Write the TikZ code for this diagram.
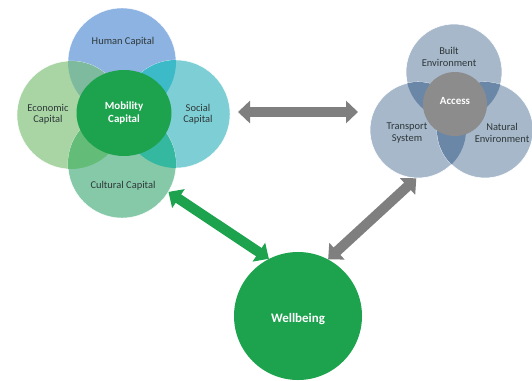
\documentclass[tikz,border=0pt]{standalone}
\usepackage{fontspec}
\setmainfont{Carlito}
\usetikzlibrary{arrows.meta,shapes.geometric}
\definecolor{humc}{HTML}{8DB3E2}
\definecolor{ecoc}{HTML}{A9D5A5}
\definecolor{socc}{HTML}{7ECFD5}
\definecolor{culc}{HTML}{86C9A9}
\definecolor{hec}{HTML}{7DBA9E}
\definecolor{hsc}{HTML}{3DBAC8}
\definecolor{ecc}{HTML}{63BC78}
\definecolor{scc}{HTML}{35B8A0}
\definecolor{mobc}{HTML}{1DA24E}
\definecolor{envc}{HTML}{A7B8CB}
\definecolor{envd}{HTML}{6B87A8}
\definecolor{accc}{HTML}{8C8C8C}
\definecolor{txtc}{HTML}{2E3838}
\definecolor{arrg}{HTML}{7F7F7F}
\tikzset{
  bigc/.style={circle, inner sep=0pt, minimum size=108bp, draw=white, line width=0.4bp},
  envcirc/.style={circle, inner sep=0pt, minimum size=96bp, fill=envc, draw=white, line width=0.6bp},
  lab/.style={text=txtc, font=\fontsize{10.5}{11.5}\selectfont, align=center, inner sep=0pt},
  wlab/.style={text=white, font=\bfseries\fontsize{11}{12.5}\selectfont, align=center, inner sep=0pt},
  fatarrow/.style={line width=10bp, {Triangle[width=22bp,length=12bp]}-{Triangle[width=22bp,length=12bp]}}
}
\begin{document}
\begin{tikzpicture}[x=1bp,y=-1bp]
\useasboundingbox (0,0) rectangle (532,380);
% left cluster
\node[bigc, fill=humc] (hum) at (122,62) {};
\node[bigc, fill=ecoc] (eco) at (71,115) {};
\node[bigc, fill=socc] (soc) at (176,114) {};
\node[bigc, fill=culc] (cul) at (122,164) {};
\begin{scope}\clip (hum.center) circle (54bp); \fill[hec] (eco.center) circle (54bp); \fill[hsc] (soc.center) circle (54bp);\end{scope}
\begin{scope}\clip (cul.center) circle (54bp); \fill[ecc] (eco.center) circle (54bp); \fill[scc] (soc.center) circle (54bp);\end{scope}
\node[ellipse, inner sep=0pt, minimum width=95bp, minimum height=86bp, fill=mobc] (mob) at (124,113) {};
\node[lab] (humt) at (123,42) {Human Capital};
\node[lab] (ecot) at (48,114) {Economic\\Capital};
\node[lab] (soct) at (198,114) {Social\\Capital};
\node[lab] (cult) at (123,186) {Cultural Capital};
\node[wlab] (mobt) at (124,113) {Mobility\\Capital};
% right cluster
\node[envcirc] (blt) at (454,72) {};
\node[envcirc] (trn) at (418,130) {};
\node[envcirc] (nat) at (485,130) {};
\begin{scope}\clip (blt.center) circle (48bp); \fill[envd] (trn.center) circle (48bp); \fill[envd] (nat.center) circle (48bp);\end{scope}
\begin{scope}\clip (trn.center) circle (48bp); \fill[envd] (nat.center) circle (48bp);\end{scope}
\node[circle, inner sep=0pt, minimum size=64bp, fill=accc] (acc) at (455,104) {};
\node[lab] (bltt) at (449,57) {Built\\Environment};
\node[lab] (trnt) at (407,133) {Transport\\System};
\node[lab] (natt) at (502,133) {Natural\\Environment};
\node[wlab] (acct) at (455,101) {Access};
% wellbeing
\node[circle, inner sep=0pt, minimum size=128bp, fill=mobc] (wb) at (298,316) {};
\node[wlab, font=\bfseries\fontsize{13}{15}\selectfont] (wbt) at (298,319) {Wellbeing};
% arrows
\coordinate (h1) at (238,112);
\coordinate (h2) at (358,112);
\draw[fatarrow, arrg] (h1) -- (h2);
\draw[fatarrow, mobc] (cul.-31) -- (wb.117);
\draw[fatarrow, arrg] (wb.62) -- (trn.-92);
\end{tikzpicture}
\end{document}
